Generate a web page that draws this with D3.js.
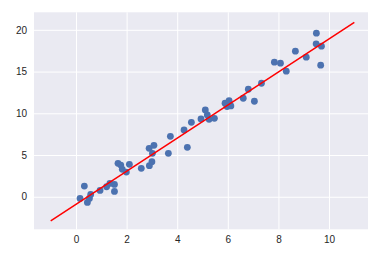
<!DOCTYPE html>
<html><head><meta charset="utf-8">
<script src="https://cdn.jsdelivr.net/npm/d3@7"></script>
<style>body{margin:0;background:#fff;} svg{display:block;}</style>
</head><body>
<script>
const xs = [0.16,0.33,0.45,0.53,0.58,0.95,1.21,1.34,1.52,1.52,1.66,1.77,1.83,1.99,2.11,2.58,2.89,2.9,3.0,3.02,3.08,3.65,3.73,4.27,4.4,4.56,4.94,5.11,5.19,5.26,5.47,5.89,5.97,6.05,6.12,6.0,6.61,6.81,7.05,7.33,7.84,8.08,8.31,8.67,9.1,9.5,9.49,9.7,9.67];
const ys = [-0.2,1.28,-0.68,-0.2,0.28,0.76,1.2,1.6,1.48,0.64,4.0,3.8,3.28,2.96,3.88,3.4,5.8,3.72,4.2,5.2,6.16,5.2,7.24,8.0,5.92,8.92,9.32,10.4,9.8,9.28,9.4,11.2,10.8,11.52,10.88,11.1,11.8,12.88,11.44,13.6,16.12,16.0,15.04,17.44,16.72,19.6,18.32,18.04,15.76];
const lineX = [-1, 11];
const slope = 1.98, intercept = -0.9;
const xTicks = [0,2,4,6,8,10];
const yTicks = [0,5,10,15,20];

const W = 386, H = 255;
const L = 34, R = 368, T = 12.3, B = 229.3;
const svg = d3.select("body").append("svg").attr("width", W).attr("height", H);
const x = d3.scaleLinear().domain([-1.66, 11.54]).range([L, R]);
const y = d3.scaleLinear().domain([-3.9, 22.1]).range([B, T]);

svg.append("rect").attr("x", L).attr("y", T).attr("width", R - L).attr("height", B - T).attr("fill", "#EAEAF2");

const gx = svg.append("g").attr("transform", `translate(0,${B})`)
  .call(d3.axisBottom(x).tickValues(xTicks).tickSize(-(B - T)).tickPadding(7).tickFormat(d3.format("d")));
const gy = svg.append("g").attr("transform", `translate(${L},0)`)
  .call(d3.axisLeft(y).tickValues(yTicks).tickSize(-(R - L)).tickPadding(7).tickFormat(d3.format("d")));
[gx, gy].forEach(g => {
  g.select(".domain").remove();
  g.selectAll(".tick line").attr("stroke", "#fff").attr("stroke-width", 1);
  g.selectAll(".tick text").attr("fill", "#262626").style("font-family", "'Liberation Sans', Arial, sans-serif").style("font-size", "10px");
});

const pts = xs.map((v, i) => [v, ys[i]]);
svg.append("g").selectAll("circle").data(pts).join("circle")
  .attr("cx", d => x(d[0])).attr("cy", d => y(d[1])).attr("r", 3.4).attr("fill", "#4C72B0");

svg.append("line")
  .attr("x1", x(lineX[0])).attr("y1", y(slope * lineX[0] + intercept))
  .attr("x2", x(lineX[1])).attr("y2", y(slope * lineX[1] + intercept))
  .attr("stroke", "red").attr("stroke-width", 1.5);
</script>
</body></html>
